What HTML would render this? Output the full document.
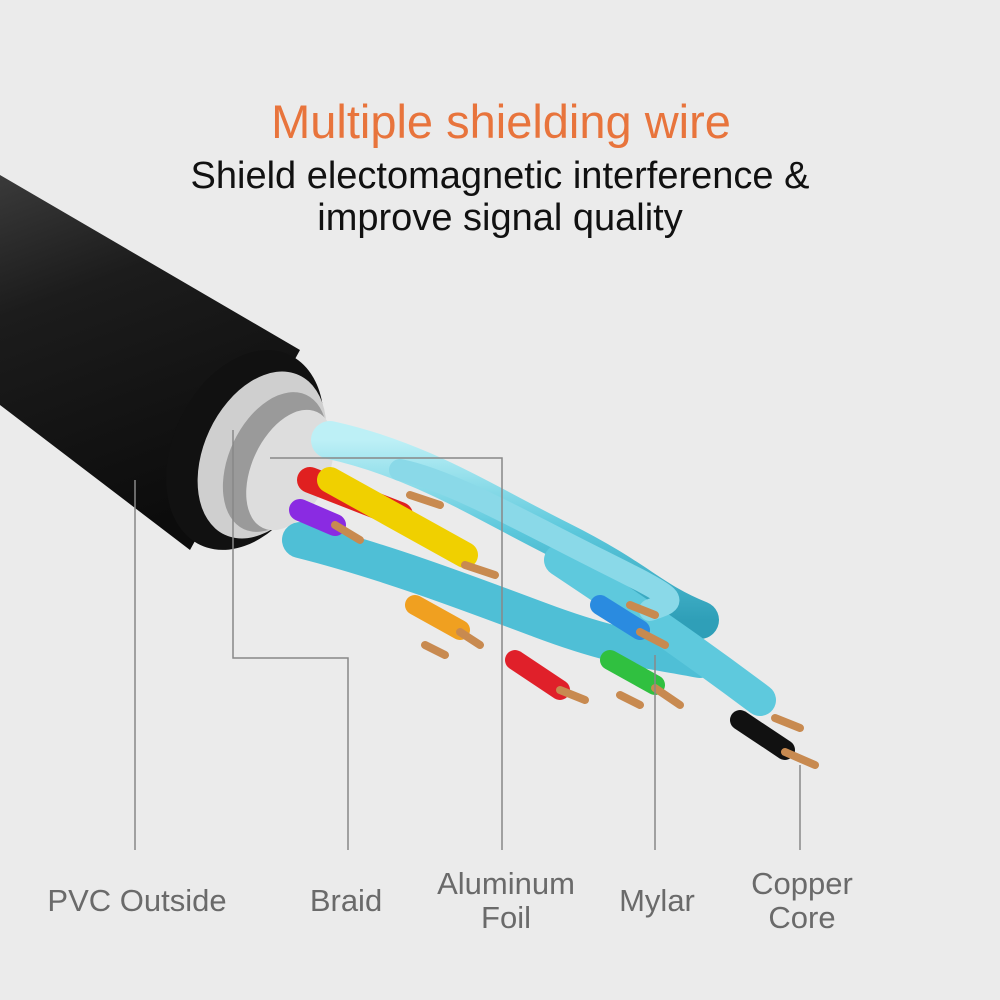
<!DOCTYPE html>
<html><head><meta charset="utf-8"><style>
html,body{margin:0;padding:0;background:#ebebeb;}
svg{display:block;}
text{font-family:"Liberation Sans",sans-serif;}
</style></head><body>
<svg width="1000" height="1000" viewBox="0 0 1000 1000">
<rect width="1000" height="1000" fill="#ebebeb"/>
<text x="501" y="138" text-anchor="middle" font-size="47" fill="#e8743c">Multiple shielding wire</text>
<text x="500" y="188" text-anchor="middle" font-size="38" fill="#111">Shield electomagnetic interference &amp;</text>
<text x="500" y="230" text-anchor="middle" font-size="38" fill="#111">improve signal quality</text>

<defs>
<linearGradient id="jk" x1="0" y1="0" x2="0.3" y2="1">
<stop offset="0" stop-color="#3a3a3a"/><stop offset="0.35" stop-color="#1c1c1c"/><stop offset="1" stop-color="#0c0c0c"/>
</linearGradient>
<linearGradient id="cy" x1="0" y1="0" x2="0" y2="1">
<stop offset="0" stop-color="#bdf0f6"/><stop offset="0.5" stop-color="#5cc8dc"/><stop offset="1" stop-color="#2f9fb8"/>
</linearGradient>
</defs>
<polygon points="0,175 300,350 190,550 0,405" fill="url(#jk)"/>
<ellipse cx="245" cy="450" rx="72" ry="105" transform="rotate(25 245 450)" fill="#111"/>
<ellipse cx="262" cy="455" rx="58" ry="88" transform="rotate(25 262 455)" fill="#cfcfcf"/>
<ellipse cx="275" cy="462" rx="46" ry="74" transform="rotate(25 275 462)" fill="#9a9a9a"/>
<ellipse cx="290" cy="470" rx="38" ry="64" transform="rotate(25 290 470)" fill="#ddd"/>

<g stroke-linecap="round" fill="none">
<path d="M330,440 C420,460 480,500 560,540 S650,600 700,620" stroke="url(#cy)" stroke-width="38"/>
<path d="M300,540 C380,560 460,590 540,620 S650,650 700,660" stroke="#4fbfd6" stroke-width="36"/>
<path d="M560,560 C620,600 680,640 760,700" stroke="#5ec9dd" stroke-width="32"/>
<path d="M400,470 C450,480 520,520 600,560 S680,600 650,610" stroke="#8ad9e8" stroke-width="22"/>
</g>
<g stroke-linecap="round">
<line x1="310" y1="480" x2="400" y2="515" stroke="#e02020" stroke-width="26"/>
<line x1="330" y1="480" x2="465" y2="555" stroke="#f0d000" stroke-width="26"/>
<line x1="300" y1="510" x2="335" y2="525" stroke="#8a2be2" stroke-width="22"/>
<line x1="415" y1="605" x2="460" y2="630" stroke="#f0a020" stroke-width="20"/>
<line x1="515" y1="660" x2="560" y2="690" stroke="#e0202a" stroke-width="20"/>
<line x1="600" y1="605" x2="640" y2="630" stroke="#2a8be0" stroke-width="20"/>
<line x1="610" y1="660" x2="655" y2="685" stroke="#30c040" stroke-width="20"/>
<line x1="740" y1="720" x2="785" y2="750" stroke="#111" stroke-width="20"/>
</g>
<g stroke="#c88a50" stroke-width="8" stroke-linecap="round">
<line x1="410" y1="495" x2="440" y2="505"/><line x1="465" y1="565" x2="495" y2="575"/>
<line x1="335" y1="525" x2="360" y2="540"/><line x1="460" y1="632" x2="480" y2="645"/>
<line x1="425" y1="645" x2="445" y2="655"/><line x1="560" y1="690" x2="585" y2="700"/>
<line x1="640" y1="632" x2="665" y2="645"/><line x1="630" y1="605" x2="655" y2="615"/>
<line x1="655" y1="688" x2="680" y2="705"/><line x1="620" y1="695" x2="640" y2="705"/>
<line x1="785" y1="752" x2="815" y2="765"/><line x1="775" y1="718" x2="800" y2="728"/>
</g>

<g stroke="#888" stroke-width="1.5" fill="none">
<line x1="135" y1="480" x2="135" y2="850"/>
<polyline points="233,430 233,658 348,658 348,850"/>
<polyline points="270,458 502,458 502,850"/>
<line x1="655" y1="655" x2="655" y2="850"/>
<line x1="800" y1="765" x2="800" y2="850"/>
</g>

<g font-size="31" fill="#6a6a6a" text-anchor="middle">
<text x="137" y="911">PVC Outside</text>
<text x="346" y="911">Braid</text>
<text x="506" y="894">Aluminum</text>
<text x="506" y="928">Foil</text>
<text x="657" y="911">Mylar</text>
<text x="802" y="894">Copper</text>
<text x="802" y="928">Core</text>
</g>
</svg>
</body></html>
